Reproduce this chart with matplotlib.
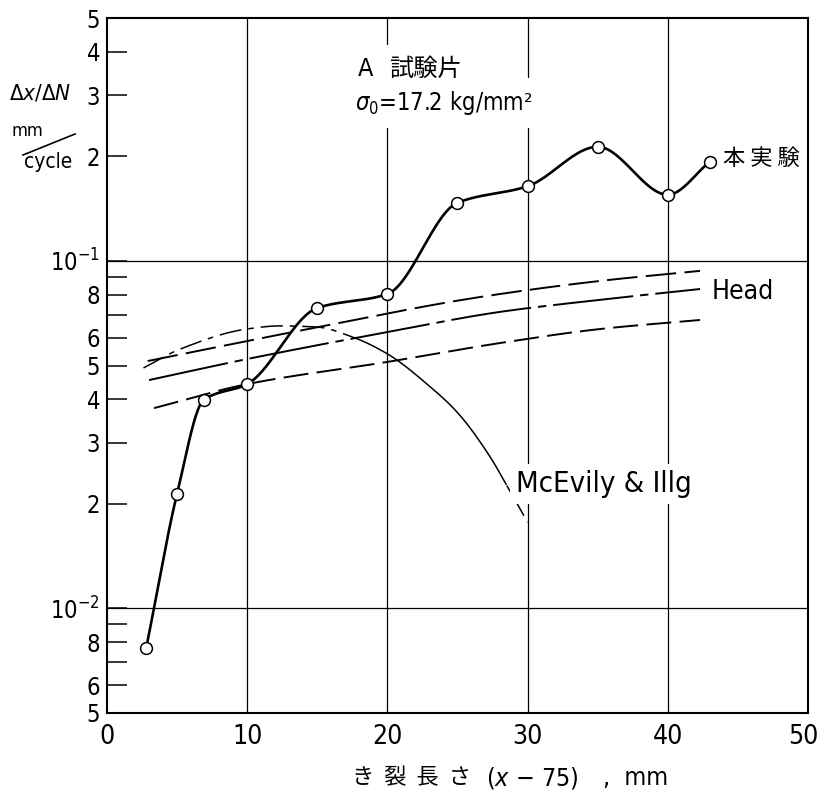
import numpy as np
import matplotlib
matplotlib.use("Agg")
import matplotlib.pyplot as plt
from matplotlib import font_manager as fm
from matplotlib.font_manager import FontProperties
from matplotlib.lines import Line2D
from matplotlib.transforms import ScaledTranslation

# ---------------- data ----------------
exp_x = [2.8, 5, 6.9, 10, 15, 20, 25, 30, 35, 40, 43]
exp_y = [0.0077, 0.0214, 0.0398, 0.0442, 0.0732, 0.0803, 0.147, 0.164, 0.213, 0.155, 0.193]

head_hi_x = [2.9, 13.6, 26.6, 35.2, 42.3]
head_hi_y = [0.0515, 0.0628, 0.0787, 0.0876, 0.0936]
head_mid_x = [3.0, 10, 20, 28, 35.2, 42.3]
head_mid_y = [0.0454, 0.0522, 0.0624, 0.0713, 0.0773, 0.083]
head_lo_x = [3.35, 10, 20, 28, 35.2, 42.3]
head_lo_y = [0.0377, 0.0442, 0.0512, 0.058, 0.0637, 0.0676]

mce_x = [2.6, 5.2, 10, 12.3, 15, 17.5, 20, 23, 25, 27.3, 28.7, 30]
mce_y = [0.0492, 0.0557, 0.0637, 0.065, 0.0645, 0.0604, 0.054, 0.0436, 0.0366, 0.0274, 0.0219, 0.0177]

x_ticks = [0, 10, 20, 30, 40, 50]
x_grid = [10, 20, 30, 40]
y_decades = [1e-2, 1e-1]
y_ticks = [5e-3, 6e-3, 7e-3, 8e-3, 9e-3, 1e-2,
           2e-2, 3e-2, 4e-2, 5e-2, 6e-2, 7e-2, 8e-2, 9e-2, 1e-1,
           2e-1, 3e-1, 4e-1, 5e-1]
y_labels = ['5', '6', '', '8', '', r'$\mathregular{10^{-2}}$',
            '2', '3', '4', '5', '6', '', '8', '', r'$\mathregular{10^{-1}}$',
            '2', '3', '4', '5']

# ---------------- fonts ----------------
CJK = 'Noto Sans CJK JP'
cond = [f for f in fm.fontManager.ttflist
        if ('Condensed' in f.fname or 'Narrow' in f.fname)
        and not any(k in f.fname for k in ('Bold', 'Oblique', 'Italic', 'Light', 'ExtraLight'))]
cond.sort(key=lambda f: (0 if 'DejaVu' in f.fname else 1, f.fname))
if cond:
    NARROW_PATH = cond[0].fname
    NARROW_NAME = cond[0].name
    IS_NARROW = True
else:
    NARROW_PATH = None
    NARROW_NAME = 'Liberation Sans'
    IS_NARROW = False

plt.rcParams['font.family'] = [NARROW_NAME, CJK, 'DejaVu Sans']
if IS_NARROW:
    plt.rcParams['font.stretch'] = cond[0].stretch
plt.rcParams['lines.scale_dashes'] = False


def nfp(size):
    if IS_NARROW:
        return FontProperties(fname=NARROW_PATH, size=size)
    return FontProperties(family=NARROW_NAME, size=size)


def pchip_log(x, y, n=500):
    """Smooth monotone cubic curve through the points, in log10(y)."""
    x = np.asarray(x, float)
    ly = np.log10(np.asarray(y, float))
    h = np.diff(x)
    d = np.diff(ly) / h
    m = np.zeros_like(ly)
    for k in range(1, len(x) - 1):
        if d[k - 1] * d[k] > 0:
            w1 = 2 * h[k] + h[k - 1]
            w2 = h[k] + 2 * h[k - 1]
            m[k] = (w1 + w2) / (w1 / d[k - 1] + w2 / d[k])
    m[0] = d[0]
    m[-1] = d[-1]
    xs = np.linspace(x[0], x[-1], n)
    idx = np.clip(np.searchsorted(x, xs) - 1, 0, len(h) - 1)
    t = (xs - x[idx]) / h[idx]
    h00 = 2 * t**3 - 3 * t**2 + 1
    h10 = t**3 - 2 * t**2 + t
    h01 = -2 * t**3 + 3 * t**2
    h11 = t**3 - t**2
    ys = h00 * ly[idx] + h10 * h[idx] * m[idx] + h01 * ly[idx + 1] + h11 * h[idx] * m[idx + 1]
    return xs, 10 ** ys


W, H = 820, 791
fig = plt.figure(figsize=(W / 100, H / 100), dpi=100)
ax = fig.add_axes([107 / W, 1 - 713 / H, (808 - 107) / W, (713 - 18) / H])
ax.set_xlim(0, 50)
ax.set_yscale('log')
ax.set_ylim(5e-3, 5e-1)

# grid
for gx in x_grid:
    ax.axvline(gx, color='black', lw=0.9, zorder=1)
for gy in y_decades:
    ax.axhline(gy, color='black', lw=0.9, zorder=1)

# Head lines
xs, ys = pchip_log(head_hi_x, head_hi_y)
ax.plot(xs, ys, color='black', lw=1.4, dashes=(22, 6), zorder=3)
xs, ys = pchip_log(head_mid_x, head_mid_y)
ax.plot(xs, ys, color='black', lw=1.4, dashes=(58, 5, 6, 5), zorder=3)
xs, ys = pchip_log(head_lo_x, head_lo_y)
ax.plot(xs, ys, color='black', lw=1.4, dashes=(18, 6), zorder=3)

# McEvily & Illg
xs, ys = pchip_log(mce_x, mce_y)
m1 = xs <= 17.5
m2 = (xs >= 17.5) & (xs <= 28.5)
m3 = xs >= 28.5
ax.plot(xs[m1], ys[m1], color='black', lw=1.1, dashes=(16, 5, 4, 5), zorder=3)
ax.plot(xs[m2], ys[m2], color='black', lw=1.1, zorder=3)
ax.plot(xs[m3], ys[m3], color='black', lw=1.1, dashes=(10, 5), zorder=3)

# experiment
xs, ys = pchip_log(exp_x, exp_y)
ax.plot(xs, ys, color='black', lw=1.9, zorder=4)
ax.plot(exp_x, exp_y, 'o', ms=8.5, mfc='white', mec='black', mew=1.1, zorder=5)

# axes styling
for s in ax.spines.values():
    s.set_linewidth(1.5)
ax.set_xticks(x_ticks)
ax.set_xticklabels([str(v) for v in x_ticks])
ax.tick_params(axis='x', length=0, pad=8)
ax.set_yticks(y_ticks)
ax.set_yticklabels(y_labels)
ax.yaxis.set_minor_locator(matplotlib.ticker.NullLocator())
ax.tick_params(axis='y', which='major', direction='in', length=14.4, width=1.1, pad=5)
xs_tick = 19 if IS_NARROW else 17
ys_tick = 17 if IS_NARROW else 15
for lab in ax.get_xticklabels():
    lab.set_fontproperties(nfp(xs_tick))
for lab in ax.get_yticklabels():
    lab.set_fontproperties(nfp(ys_tick))
# keep the last x label ("50") inside the figure, as in the reference
last = ax.get_xticklabels()[-1]
last.set_transform(last.get_transform() + ScaledTranslation(-0.05, 0, fig.dpi_scale_trans))

# annotations (figure pixel positions)
def fx(px):
    return px / W

def fy(py):
    return 1 - py / H

wb = dict(facecolor='white', edgecolor='none', boxstyle='square,pad=0.45')
fig.text(fx(358), fy(69), 'A', fontproperties=nfp(18), va='center', ha='left', bbox=wb, zorder=6)
fig.text(fx(389), fy(69), '試験片', fontsize=17.5, family=[CJK], va='center', ha='left',
         bbox=wb, zorder=6)
fig.text(fx(355), fy(103), r'$\sigma_0$=17.2 kg/mm²',
         fontproperties=nfp(17 if IS_NARROW else 16), va='center', ha='left',
         bbox=wb, zorder=6)
fig.text(fx(723), fy(158), '本 実 験', fontsize=16, va='center', ha='left', family=[CJK])
fig.text(fx(712), fy(292), 'Head', fontproperties=nfp(19 if IS_NARROW else 17),
         va='center', ha='left')
fig.text(fx(516), fy(492), 'McEvily & Illg', fontproperties=nfp(21 if IS_NARROW else 19),
         va='baseline', ha='left',
         bbox=dict(facecolor='white', edgecolor='none', boxstyle='square,pad=0.2'))

# y-axis label
fig.text(fx(9), fy(93), r'$\Delta x/\Delta N$', fontsize=16, va='center', ha='left')
fig.text(fx(12), fy(131), 'mm', fontsize=13, va='center', ha='left')
fig.text(fx(24), fy(162), 'cycle', fontsize=15, va='center', ha='left')
fig.add_artist(Line2D([fx(23), fx(75)], [fy(155), fy(134)], color='black', lw=1.2,
                      transform=fig.transFigure))

# x-axis label (pieces)
fig.text(fx(352), fy(778), 'き  裂  長  さ', fontsize=16, va='center', ha='left', family=[CJK])
fig.text(fx(486), fy(778), r'($x$ − 75)', fontproperties=nfp(18 if IS_NARROW else 16),
         va='center', ha='left')
fig.text(fx(603), fy(778), ',  mm', fontproperties=nfp(18 if IS_NARROW else 16),
         va='center', ha='left')

fig.savefig('out.png', dpi=100)
